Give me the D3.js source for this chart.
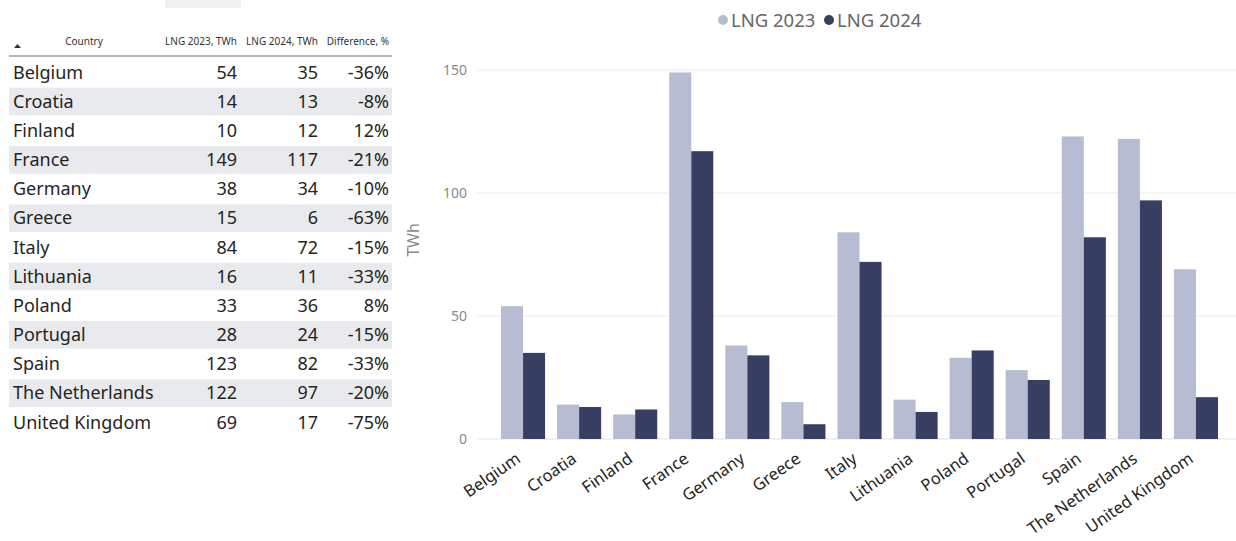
<!DOCTYPE html>
<html><head><meta charset="utf-8">
<script src="https://cdn.jsdelivr.net/npm/d3@7"></script>
<style>
body{margin:0;background:#fff;}
svg{display:block;font-family:"Segoe UI","Noto Sans","Open Sans",sans-serif;}
</style></head>
<body>
<svg id="c" width="1236" height="541"></svg>
<script>
const countries = ["Belgium","Croatia","Finland","France","Germany","Greece","Italy","Lithuania","Poland","Portugal","Spain","The Netherlands","United Kingdom"];
const lng2023 = [54,14,10,149,38,15,84,16,33,28,123,122,69];
const lng2024 = [35,13,12,117,34,6,72,11,36,24,82,97,17];
const diffPct = ["-36%","-8%","12%","-21%","-10%","-63%","-15%","-33%","8%","-15%","-33%","-20%","-75%"];
const yTicks = [0,50,100,150];
const seriesNames = ["LNG 2023","LNG 2024"];
const colors = ["#b7bcd2","#373f63"];
const headers = ["Country","LNG 2023, TWh","LNG 2024, TWh","Difference, %"];

const svg = d3.select("#c");

// ---------- Table ----------
const tbl = svg.append("g");
tbl.append("rect").attr("x",165).attr("y",0).attr("width",76).attr("height",8).attr("fill","#f0f0f0");
const rowY = d3.scaleBand().domain(countries).range([57.5, 57.5+29.17*13]).padding(0);
tbl.selectAll("rect.row").data(countries).join("rect")
  .attr("x",9).attr("width",383)
  .attr("y",d=>rowY(d)+1).attr("height",rowY.bandwidth()-1.5)
  .attr("fill",(d,i)=>i%2===1?"#e9eaed":"#fff");
tbl.append("line").attr("x1",9).attr("x2",392).attr("y1",56).attr("y2",56).attr("stroke","#b4b6c2").attr("stroke-width",2);
const hx = [84,237,318,389], ha = ["middle","end","end","end"];
tbl.selectAll("text.h").data(headers).join("text")
  .attr("x",(d,i)=>hx[i]).attr("y",45).attr("text-anchor",(d,i)=>ha[i])
  .attr("font-size",10).attr("fill","#333").text(d=>d);
tbl.append("path").attr("d","M14,48 L17.5,44 L21,48 Z").attr("fill","#333");
const cols = [
  {vals:countries, x:13, anchor:"start"},
  {vals:lng2023, x:237, anchor:"end"},
  {vals:lng2024, x:318, anchor:"end"},
  {vals:diffPct, x:389, anchor:"end"}
];
cols.forEach(c=>{
  tbl.selectAll(null).data(c.vals).join("text")
    .attr("x",c.x).attr("y",(d,i)=>rowY(countries[i])+rowY.bandwidth()/2+6.5)
    .attr("text-anchor",c.anchor).attr("font-size",18).attr("fill","#252423")
    .text(d=>d);
});

// ---------- Chart ----------
const y = d3.scaleLinear().domain([0,150]).range([439,70]);
const x = d3.scaleBand().domain(countries).range([489,1230]).paddingInner(0.214).paddingOuter(0.214);
const xs = d3.scaleBand().domain(seriesNames).range([0,x.bandwidth()]);

const g = svg.append("g");
g.selectAll("line.grid").data(yTicks).join("line")
  .attr("x1",477).attr("x2",1236).attr("y1",d=>y(d)).attr("y2",d=>y(d))
  .attr("stroke",d=>d===0?"#e3e3e3":"#ececec").attr("stroke-width",1.2);
g.selectAll("text.yt").data(yTicks).join("text")
  .attr("x",467).attr("y",d=>y(d)+5).attr("text-anchor","end")
  .attr("font-size",14).attr("fill","#8a8a8a").text(d=>d);
g.append("text").attr("transform","translate(419,240) rotate(-90)")
  .attr("text-anchor","middle").attr("font-size",16).attr("fill","#8a8a8a").text("TWh");

const data = [lng2023, lng2024];
data.forEach((vals,s)=>{
  g.selectAll(null).data(vals).join("rect")
    .attr("x",(d,i)=>x(countries[i])+xs(seriesNames[s]))
    .attr("width",xs.bandwidth())
    .attr("y",d=>y(d)).attr("height",d=>y(0)-y(d))
    .attr("fill",colors[s]);
});

const xAxis = d3.axisBottom(x).tickSize(0).tickPadding(0);
const ax = g.append("g").attr("transform","translate(0,446)").call(xAxis);
ax.select(".domain").remove();
ax.selectAll("text")
  .attr("font-size",16.5).attr("fill","#252423")
  .attr("font-family",'"Segoe UI","Noto Sans","Open Sans",sans-serif')
  .attr("text-anchor","end")
  .attr("y",0)
  .attr("dy","0.7em").attr("dx","-0.6em")
  .attr("transform","rotate(-35)");

// legend
const leg = svg.append("g");
const lx = [723,829];
seriesNames.forEach((n,i)=>{
  leg.append("circle").attr("cx",lx[i]).attr("cy",20).attr("r",5).attr("fill",colors[i]);
  leg.append("text").attr("x",lx[i]+8).attr("y",26.5).attr("font-size",18.5).attr("fill","#666").text(n);
});
</script>
</body></html>
